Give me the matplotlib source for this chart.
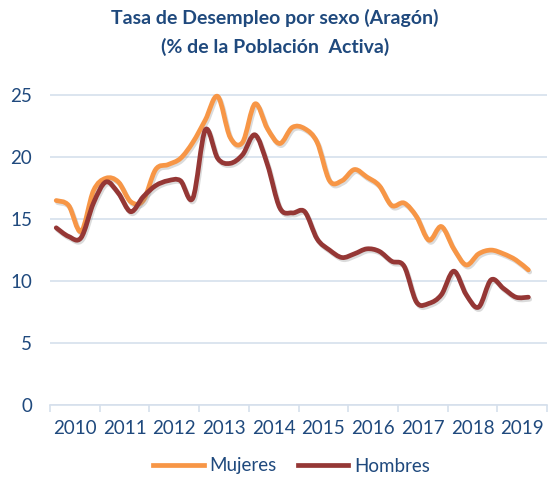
import numpy as np
import matplotlib
matplotlib.use("Agg")
from matplotlib import pyplot as plt
from matplotlib.path import Path
from matplotlib.patches import PathPatch
from matplotlib.lines import Line2D
import matplotlib.patheffects as pe

# datos trimestrales, 2010T1 - 2019T3
years = list(range(2010, 2020))
mujeres = [16.5, 16.1, 14.0, 17.3, 18.3, 18.0, 16.4, 16.5, 19.0, 19.4,
           19.9, 21.2, 23.0, 24.9, 21.6, 21.2, 24.3, 22.3, 21.1, 22.4,
           22.3, 21.2, 18.1, 18.1, 19.0, 18.4, 17.7, 16.1, 16.3, 15.2,
           13.3, 14.4, 12.6, 11.3, 12.2, 12.5, 12.2, 11.7, 10.9]
hombres = [14.3, 13.6, 13.5, 16.3, 18.0, 17.1, 15.6, 16.8, 17.7, 18.1,
           18.1, 16.7, 22.2, 19.9, 19.5, 20.2, 21.8, 19.4, 15.9, 15.5,
           15.6, 13.4, 12.5, 11.9, 12.2, 12.6, 12.4, 11.6, 11.2, 8.3,
           8.2, 8.9, 10.8, 8.9, 7.9, 10.1, 9.4, 8.7, 8.7]

c_muj = "#F79646"
c_hom = "#953735"
c_txt = "#1F497D"
c_grid = "#D6E0EC"

plt.rcParams['font.family'] = ['Lato', 'DejaVu Sans']

def smooth_path(x, y):
    # curva tipo "línea suavizada" de Excel (Catmull-Rom -> Bezier)
    pts = np.column_stack([x, y])
    verts = [pts[0]]
    codes = [Path.MOVETO]
    n = len(pts)
    for i in range(n - 1):
        p0 = pts[i - 1] if i > 0 else pts[i]
        p1 = pts[i]
        p2 = pts[i + 1]
        p3 = pts[i + 2] if i + 2 < n else pts[i + 1]
        c1 = p1 + (p2 - p0) / 6.0
        c2 = p2 - (p3 - p1) / 6.0
        verts += [c1, c2, p2]
        codes += [Path.CURVE4] * 3
    return Path(verts, codes)

x = 2010.125 + 0.25 * np.arange(len(mujeres))

fig = plt.figure(figsize=(5.5, 4.78), dpi=100)
ax = fig.add_axes([50/550, 1 - 405/478, 497/550, 316/478])

shadow = [pe.SimpleLineShadow(offset=(1, -1.5), shadow_color="#888888", alpha=0.3), pe.Normal()]
for yv, col in [(mujeres, c_muj), (hombres, c_hom)]:
    patch = PathPatch(smooth_path(x, np.array(yv)), fill=False, edgecolor=col,
                      linewidth=3.4, capstyle='round', joinstyle='round',
                      transform=ax.transData, path_effects=shadow)
    ax.add_patch(patch)

ax.set_xlim(2010, 2020)
ax.set_ylim(0, 25.5)
ax.set_yticks([0, 5, 10, 15, 20, 25])
ax.yaxis.grid(True, color=c_grid, linewidth=1.2)
ax.set_axisbelow(True)
ax.tick_params(axis='y', length=0, labelsize=13.5, labelcolor=c_txt, pad=13)

ax.set_xticks(range(2010, 2021), minor=True)
ax.set_xticks([yr + 0.5 for yr in years])
ax.set_xticklabels([str(yr) for yr in years])
ax.tick_params(axis='x', which='major', length=0, labelsize=13.5, labelcolor=c_txt, pad=11)
ax.tick_params(axis='x', which='minor', length=5, color=c_grid, width=1.2)

for s in ['top', 'right', 'left']:
    ax.spines[s].set_visible(False)
ax.spines['bottom'].set_color(c_grid)
ax.spines['bottom'].set_linewidth(1.2)

fig.text(0.5, 1 - 18/478, "Tasa de Desempleo por sexo (Aragón)", ha='center', va='center',
         fontsize=14, fontweight='bold', color=c_txt)
fig.text(0.5, 1 - 47/478, "(% de la Población  Activa)", ha='center', va='center',
         fontsize=14, fontweight='bold', color=c_txt)

handles = [Line2D([], [], color=c_muj, linewidth=3.4),
           Line2D([], [], color=c_hom, linewidth=3.4)]
fig.legend(handles, ["Mujeres", "Hombres"], loc='center', bbox_to_anchor=(0.53, 1 - 466/478),
           ncol=2, frameon=False, fontsize=13.5, labelcolor=c_txt, handlelength=2.7,
           handletextpad=0.3, columnspacing=1.1)

fig.savefig("out.png", dpi=100)
